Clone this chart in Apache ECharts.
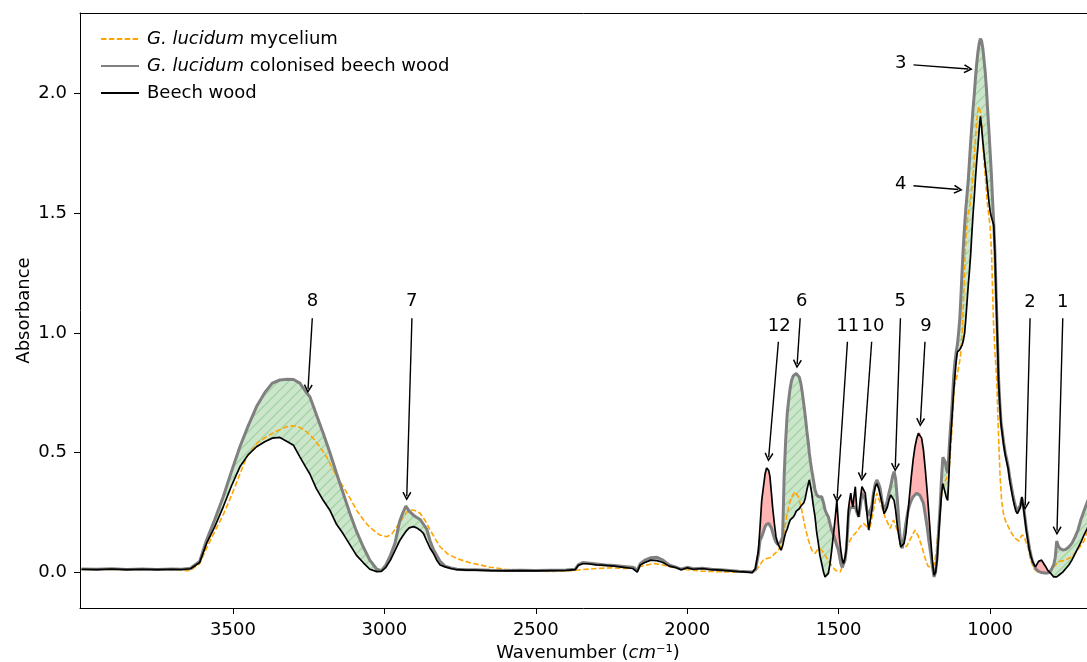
<!DOCTYPE html>
<html><head><meta charset="utf-8">
<script src="https://cdn.jsdelivr.net/npm/echarts@6/dist/echarts.min.js"></script>
<style>html,body{margin:0;padding:0;background:#fff}#c{width:1087px;height:662px}</style>
</head><body><div id="c"></div>
<script>
// ---------- data ----------
const wavenumbers = [4000,3950,3900,3850,3800,3750,3700,3670,3640,3610,
3587,3560,3532,3505,3477,3450,3422,3395,3370,3345,
3320,3300,3279,3260,3246,3225,3202,3180,3158,3136,
3114,3092,3070,3048,3025,3010,2995,2980,2965,2950,
2940,2929,2918,2904,2893,2882,2871,2860,2849,2838,
2827,2816,2800,2780,2760,2730,2700,2650,2600,2550,
2500,2450,2400,2370,2360,2345,2330,2300,2270,2240,
2210,2180,2165,2155,2140,2120,2100,2080,2060,2040,
2020,2000,1980,1950,1920,1890,1860,1830,1800,1785,
1775,1765,1760,1754,1748,1743,1738,1735,1731,1727,
1722,1718,1712,1707,1701,1696,1690,1685,1680,1675,
1670,1665,1660,1655,1650,1645,1640,1635,1630,1625,
1620,1615,1610,1605,1600,1597,1593,1589,1584,1578,
1573,1567,1562,1556,1550,1545,1540,1534,1528,1523,
1517,1511,1506,1501,1497,1493,1488,1484,1479,1475,
1471,1468,1464,1460,1456,1453,1449,1445,1440,1434,
1429,1423,1418,1412,1407,1401,1396,1390,1385,1379,
1374,1368,1363,1357,1350,1345,1339,1334,1328,1322,
1317,1312,1306,1300,1295,1290,1284,1278,1272,1266,
1260,1254,1248,1242,1237,1231,1226,1220,1214,1208,
1202,1196,1190,1185,1180,1175,1170,1165,1160,1156,
1152,1148,1144,1140,1136,1132,1128,1124,1120,1116,
1112,1108,1104,1100,1096,1092,1088,1084,1080,1076,
1072,1068,1064,1060,1056,1052,1048,1044,1040,1036,
1032,1028,1024,1020,1016,1012,1008,1004,1000,996,
992,988,984,980,976,972,968,964,960,955,
950,945,940,935,930,925,920,915,910,905,
900,895,890,885,880,875,870,865,860,855,
850,845,840,835,830,825,820,815,810,805,
800,795,790,785,780,775,770,765,760,750,
740,730,720,710,700,690,680,670,660,650];

const colonised = [0.013,0.012,0.014,0.011,0.013,0.011,0.013,0.012,0.016,0.045,
0.134,0.220,0.315,0.420,0.524,0.610,0.692,0.750,0.790,0.803,
0.806,0.805,0.790,0.755,0.733,0.660,0.580,0.500,0.413,0.330,
0.246,0.170,0.106,0.050,0.012,0.006,0.030,0.070,0.120,0.210,
0.245,0.276,0.255,0.238,0.228,0.220,0.200,0.180,0.130,0.095,
0.070,0.045,0.025,0.017,0.012,0.010,0.010,0.008,0.007,0.008,
0.007,0.008,0.009,0.012,0.030,0.040,0.038,0.034,0.030,0.028,
0.024,0.020,0.008,0.035,0.050,0.060,0.062,0.050,0.030,0.022,
0.012,0.020,0.014,0.016,0.012,0.010,0.007,0.004,0.002,0.000,
0.010,0.075,0.130,0.148,0.170,0.190,0.200,0.205,0.204,0.195,
0.185,0.165,0.140,0.125,0.115,0.113,0.130,0.148,0.400,0.550,
0.660,0.720,0.770,0.803,0.820,0.828,0.830,0.826,0.815,0.790,
0.750,0.700,0.650,0.590,0.538,0.500,0.460,0.427,0.390,0.343,
0.325,0.315,0.318,0.315,0.290,0.260,0.245,0.231,0.200,0.176,
0.155,0.134,0.110,0.092,0.065,0.036,0.020,0.015,0.050,0.092,
0.160,0.231,0.260,0.270,0.273,0.270,0.270,0.273,0.250,0.231,
0.270,0.330,0.320,0.300,0.260,0.235,0.240,0.280,0.330,0.370,
0.385,0.370,0.350,0.300,0.260,0.270,0.300,0.330,0.360,0.400,
0.420,0.390,0.300,0.190,0.120,0.100,0.150,0.204,0.250,0.280,
0.300,0.315,0.322,0.330,0.330,0.320,0.305,0.287,0.240,0.190,
0.130,0.078,0.020,-0.020,0.000,0.060,0.170,0.273,0.400,0.480,
0.480,0.460,0.430,0.415,0.500,0.580,0.650,0.730,0.820,0.880,
0.920,0.950,1.000,1.060,1.160,1.270,1.370,1.450,1.520,1.580,
1.640,1.720,1.800,1.870,1.940,2.000,2.070,2.128,2.175,2.210,
2.230,2.220,2.190,2.140,2.090,2.020,1.930,1.850,1.760,1.670,
1.560,1.460,1.340,1.160,0.990,0.810,0.710,0.630,0.590,0.540,
0.500,0.470,0.440,0.395,0.360,0.325,0.295,0.270,0.258,0.262,
0.280,0.310,0.280,0.230,0.180,0.140,0.100,0.070,0.045,0.030,
0.015,0.008,0.003,0.000,-0.002,-0.003,-0.004,-0.005,-0.004,0.000,
0.005,0.012,0.030,0.060,0.130,0.110,0.100,0.095,0.092,0.095,
0.105,0.120,0.145,0.175,0.220,0.255,0.290,0.320,0.350,0.380];

const beech = [0.012,0.010,0.013,0.010,0.012,0.010,0.012,0.011,0.014,0.040,
0.120,0.190,0.273,0.360,0.440,0.490,0.524,0.545,0.560,0.563,
0.545,0.530,0.482,0.440,0.410,0.350,0.300,0.259,0.200,0.160,
0.115,0.070,0.040,0.012,0.002,0.003,0.020,0.050,0.090,0.130,
0.150,0.170,0.185,0.190,0.185,0.175,0.162,0.130,0.100,0.078,
0.050,0.030,0.022,0.015,0.010,0.008,0.008,0.006,0.005,0.006,
0.005,0.006,0.007,0.010,0.028,0.035,0.035,0.030,0.028,0.025,
0.020,0.015,0.000,0.030,0.040,0.050,0.048,0.040,0.025,0.020,
0.010,0.018,0.012,0.015,0.010,0.008,0.005,0.002,0.000,-0.002,
0.015,0.090,0.180,0.300,0.360,0.410,0.435,0.440,0.425,0.400,
0.330,0.270,0.200,0.148,0.120,0.106,0.092,0.110,0.140,0.165,
0.180,0.200,0.218,0.225,0.230,0.240,0.255,0.260,0.265,0.275,
0.280,0.290,0.310,0.343,0.370,0.385,0.360,0.330,0.280,0.231,
0.170,0.120,0.070,0.036,0.000,-0.020,-0.015,-0.005,0.040,0.092,
0.160,0.231,0.300,0.204,0.140,0.092,0.050,0.036,0.060,0.092,
0.180,0.260,0.300,0.330,0.290,0.273,0.320,0.357,0.260,0.231,
0.300,0.357,0.345,0.330,0.250,0.176,0.170,0.260,0.320,0.357,
0.370,0.350,0.343,0.290,0.245,0.255,0.273,0.300,0.322,0.315,
0.300,0.260,0.190,0.140,0.105,0.100,0.120,0.162,0.240,0.320,
0.400,0.470,0.524,0.560,0.580,0.587,0.560,0.510,0.430,0.340,
0.240,0.134,0.040,-0.013,0.000,0.050,0.150,0.245,0.330,0.370,
0.350,0.330,0.310,0.300,0.400,0.520,0.600,0.680,0.760,0.820,
0.880,0.920,0.925,0.930,0.940,0.950,0.970,1.000,1.060,1.130,
1.200,1.260,1.330,1.420,1.500,1.570,1.650,1.720,1.780,1.850,
1.905,1.860,1.800,1.750,1.700,1.655,1.600,1.550,1.510,1.485,
1.480,1.450,1.330,1.150,0.980,0.800,0.700,0.620,0.580,0.530,
0.490,0.460,0.430,0.380,0.345,0.310,0.280,0.255,0.245,0.250,
0.270,0.315,0.270,0.220,0.170,0.130,0.090,0.065,0.045,0.032,
0.022,0.030,0.045,0.050,0.050,0.040,0.030,0.020,0.008,0.000,
-0.005,-0.012,-0.020,-0.025,-0.020,-0.015,-0.010,-0.005,0.000,0.015,
0.030,0.050,0.075,0.100,0.125,0.155,0.180,0.210,0.235,0.260];

const myceliumWavenumbers = [4000,3950,3900,3850,3800,3750,3700,3670,3642,3610,
3587,3560,3532,3505,3477,3455,3420,3389,3355,3323,
3300,3279,3257,3235,3213,3190,3169,3150,3136,3114,
3092,3070,3050,3037,3015,2992,2975,2959,2940,2926,
2915,2904,2893,2882,2865,2849,2830,2816,2790,2761,
2720,2684,2650,2600,2550,2500,2450,2400,2350,2300,
2250,2200,2150,2112,2080,2050,2000,1950,1900,1850,
1800,1780,1771,1760,1749,1738,1727,1716,1699,1690,
1683,1672,1664,1655,1644,1633,1622,1611,1600,1589,
1578,1567,1556,1545,1528,1511,1495,1484,1473,1456,
1445,1429,1418,1407,1396,1385,1374,1358,1347,1330,
1319,1303,1292,1276,1259,1248,1237,1226,1215,1205,
1195,1185,1178,1170,1163,1155,1145,1136,1128,1118,
1107,1098,1092,1086,1080,1074,1066,1060,1055,1050,
1044,1038,1031,1026,1022,1015,1009,1004,1000,995,
989,984,978,973,967,962,956,948,940,928,
917,905,895,888,880,874,868,862,855,846,
830,813,800,791,780,770,752,730,714,703,
690,681,665,650];

const mycelium = [0.010,0.012,0.010,0.011,0.010,0.012,0.010,0.008,0.006,0.035,
0.100,0.170,0.240,0.320,0.410,0.480,0.540,0.566,0.590,0.608,
0.612,0.605,0.587,0.560,0.524,0.480,0.427,0.385,0.357,0.310,
0.259,0.220,0.190,0.176,0.155,0.148,0.160,0.190,0.225,0.252,
0.260,0.259,0.255,0.246,0.215,0.176,0.135,0.106,0.075,0.057,
0.040,0.030,0.020,0.012,0.008,0.005,0.003,0.004,0.010,0.015,
0.018,0.015,0.025,0.036,0.030,0.020,0.010,0.004,0.002,0.000,
0.000,0.003,0.010,0.030,0.050,0.057,0.060,0.071,0.092,0.110,
0.148,0.231,0.280,0.315,0.336,0.315,0.260,0.190,0.134,0.092,
0.078,0.099,0.092,0.071,0.036,0.008,0.001,0.036,0.106,0.148,
0.162,0.190,0.204,0.190,0.190,0.260,0.330,0.273,0.231,0.183,
0.218,0.162,0.120,0.106,0.148,0.176,0.150,0.110,0.060,0.025,
0.020,0.030,0.080,0.200,0.300,0.360,0.390,0.415,0.550,0.774,
0.833,0.900,1.000,1.200,1.400,1.480,1.540,1.610,1.680,1.780,
1.890,1.947,1.920,1.840,1.750,1.640,1.540,1.490,1.445,1.330,
1.050,0.920,0.800,0.600,0.400,0.300,0.245,0.210,0.190,0.160,
0.141,0.130,0.155,0.150,0.120,0.100,0.060,0.036,0.015,0.003,
-0.002,-0.004,0.000,0.020,0.035,0.045,0.050,0.064,0.090,0.106,
0.130,0.162,0.200,0.230];

const xTicks = [3500, 3000, 2500, 2000, 1500, 1000];
const yTicks = [0, 0.5, 1, 1.5, 2];

const annotationLabels = ['8', '7', '12', '6', '11', '10', '5', '9', '2', '1', '3', '4'];
const annotationTextPos = [[3237,1.130],[2910,1.130],[1696,1.028],[1622,1.130],[1470,1.028],[1387,1.028],
  [1297,1.130],[1212,1.028],[868,1.126],[760,1.126],[1295,2.127],[1295,1.622]];
const annotationArrowFrom = [[3238,1.061],[2909,1.061],[1699,0.963],[1627,1.061],[1471,0.963],[1391,0.963],
  [1296,1.061],[1215,0.963],[868,1.061],[760,1.061],[1253,2.120],[1253,1.615]];
const annotationArrowTo = [[3252,0.766],[2926,0.317],[1731,0.480],[1637,0.870],[1505,0.309],[1423,0.399],
  [1313,0.438],[1230,0.626],[884,0.278],[779,0.173],[1072,2.103],[1105,1.599]];

const seriesNames = ['G. lucidum mycelium', 'G. lucidum colonised beech wood', 'Beech wood'];

// ---------- helpers ----------
const FONT = 'DejaVu Sans';
function makeHatch() {
  const c = document.createElement('canvas');
  c.width = 10; c.height = 10;
  const g = c.getContext('2d');
  g.fillStyle = '#cce6cc'; g.fillRect(0, 0, 10, 10);
  g.strokeStyle = '#a3d3a3'; g.lineWidth = 1.3;
  g.beginPath();
  g.moveTo(0, 10); g.lineTo(10, 0);
  g.moveTo(-5, 5); g.lineTo(5, -5);
  g.moveTo(5, 15); g.lineTo(15, 5);
  g.stroke();
  return c;
}
const hatchFill = { image: makeHatch(), repeat: 'repeat' };

function fillRegions(xs, top, bot) {
  const out = []; let cur = null;
  for (let i = 0; i < xs.length; i++) {
    const d = top[i] - bot[i];
    const s = d > 0 ? 1 : (d < 0 ? -1 : 0);
    if (cur && cur.sign !== 0 && s !== 0 && s !== cur.sign) {
      const dp = top[i - 1] - bot[i - 1];
      const t = dp / (dp - d);
      const xc = xs[i - 1] + t * (xs[i] - xs[i - 1]);
      const yc = bot[i - 1] + t * (bot[i] - bot[i - 1]);
      cur.upper.push([xc, yc]); cur.lower.push([xc, yc]); out.push(cur);
      cur = { sign: s, upper: [[xc, yc]], lower: [[xc, yc]] };
    }
    if (!cur) cur = { sign: s, upper: [], lower: [] };
    if (cur.sign === 0) cur.sign = s;
    cur.upper.push([xs[i], top[i]]); cur.lower.push([xs[i], bot[i]]);
  }
  out.push(cur);
  return out.filter(r => r.sign !== 0);
}
const regions = fillRegions(wavenumbers, colonised, beech);

const arrowHead = 'path://M5,0L10,9L8.6,10L5,3.4L1.4,10L0,9Z';
const X_MIN = 680, X_MAX = 4005;

const chart = echarts.init(document.getElementById('c'), null, { renderer: 'canvas' });
const option = {
  animation: false,
  backgroundColor: '#fff',
  textStyle: { fontFamily: FONT },
  grid: { left: 80, top: 13, right: 0, height: 595, show: false, containLabel: false, outerBoundsMode: 'none' },
  legend: {
    orient: 'vertical', left: 95, top: 24, itemWidth: 38, itemHeight: 20, itemGap: 7,
    selectedMode: false, data: seriesNames,
    itemStyle: { opacity: 0, color: 'rgba(0,0,0,0)', borderWidth: 0 },
    textStyle: { fontSize: 18, color: '#000', fontFamily: FONT, lineHeight: 20, padding: [0, 0, 0, 3],
      rich: { i: { fontStyle: 'italic', fontSize: 18, color: '#000', fontFamily: FONT, lineHeight: 20 } } },
    formatter: name => name.indexOf('G. lucidum') === 0 ? '{i|G. lucidum}' + name.slice(10) : name
  },
  xAxis: [{
    type: 'value', inverse: true, min: X_MIN, max: X_MAX,
    name: 'Wavenumber ({it|cm}\u207B\u00B9)', nameLocation: 'middle', nameGap: 34,
    nameTextStyle: { fontSize: 18, color: '#000', fontFamily: FONT, padding: [0, 0, 0, 9],
      rich: { it: { fontStyle: 'italic', fontSize: 18, color: '#000', fontFamily: FONT } } },
    axisLine: { show: true, onZero: false, lineStyle: { color: '#000', width: 1 } },
    axisTick: { show: true, customValues: xTicks, length: 6, lineStyle: { color: '#000', width: 1 } },
    axisLabel: { customValues: xTicks, formatter: v => String(v), margin: 13, fontSize: 18, color: '#000', fontFamily: FONT },
    splitLine: { show: false }
  }, {
    type: 'value', position: 'top', inverse: true, min: X_MIN, max: X_MAX,
    axisLine: { show: true, onZero: false, lineStyle: { color: '#000', width: 1 } },
    axisTick: { show: false }, axisLabel: { show: false }, splitLine: { show: false }
  }],
  yAxis: {
    type: 'value', min: -0.15, max: 2.337,
    name: 'Absorbance', nameLocation: 'middle', nameGap: 47, nameMoveOverlap: false,
    nameTextStyle: { fontSize: 18, color: '#000', fontFamily: FONT },
    axisLine: { show: true, onZero: false, lineStyle: { color: '#000', width: 1 } },
    axisTick: { show: true, customValues: yTicks, length: 6, lineStyle: { color: '#000', width: 1 } },
    axisLabel: { customValues: yTicks, formatter: v => Number(v).toFixed(1), margin: 13, fontSize: 18, color: '#000', fontFamily: FONT },
    splitLine: { show: false }
  },
  series: [
    {
      type: 'custom', name: 'difference', coordinateSystem: 'cartesian2d', silent: true, clip: true, z: 1,
      data: [[wavenumbers[0], beech[0]]],
      renderItem: function (params, api) {
        return {
          type: 'group',
          children: regions.map(r => ({
            type: 'polygon',
            shape: { points: r.upper.concat(r.lower.slice().reverse()).map(p => api.coord(p)) },
            style: { fill: r.sign > 0 ? hatchFill : '#ffb3b3', stroke: null }
          }))
        };
      }
    },
    {
      type: 'line', name: seriesNames[0], z: 2, silent: true, symbol: 'none', showSymbol: false,
      data: myceliumWavenumbers.map((w, i) => [w, mycelium[i]]),
      lineStyle: { color: '#ffa500', width: 1.6, type: [5.5, 2.4] }, itemStyle: { color: '#ffa500' }
    },
    {
      type: 'line', name: seriesNames[1], z: 3, silent: true, symbol: 'none', showSymbol: false,
      data: wavenumbers.map((w, i) => [w, colonised[i]]),
      lineStyle: { color: '#808080', width: 3 }, itemStyle: { color: '#808080' }
    },
    {
      type: 'line', name: seriesNames[2], z: 4, silent: true, symbol: 'none', showSymbol: false,
      data: wavenumbers.map((w, i) => [w, beech[i]]),
      lineStyle: { color: '#000', width: 1.7 }, itemStyle: { color: '#000' }
    },
    {
      type: 'scatter', name: 'annotations', z: 5, silent: true, symbolSize: 0.01,
      itemStyle: { color: '#000' },
      data: annotationTextPos.map((p, i) => [p[0], p[1], annotationLabels[i]]),
      label: { show: true, position: 'inside', formatter: p => p.value[2], fontSize: 18, color: '#000',
        fontFamily: FONT, textBorderWidth: 0, opacity: 1 },
      markLine: {
        silent: true, symbol: ['none', arrowHead], symbolSize: 9, animation: false,
        label: { show: false }, emphasis: { disabled: true },
        lineStyle: { color: '#000', width: 1.4, type: 'solid' },
        data: annotationArrowFrom.map((f, i) => [{ coord: f }, { coord: annotationArrowTo[i] }])
      }
    }
  ]
};
chart.setOption(option);
</script>
</body></html>
